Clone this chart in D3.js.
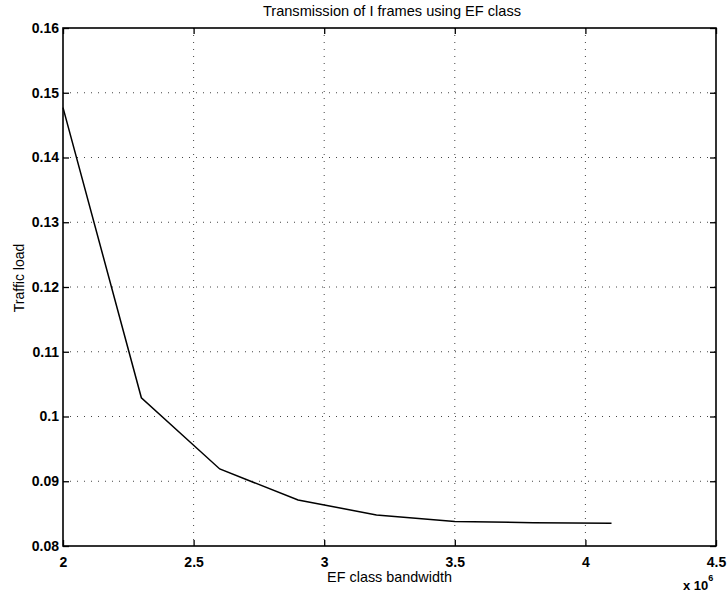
<!DOCTYPE html>
<html>
<head>
<meta charset="utf-8">
<script src="https://cdn.jsdelivr.net/npm/d3@7"></script>
<style>
  body { margin: 0; background: #fff; }
  text { font-family: "Liberation Sans", Arial, sans-serif; fill: #000; }
</style>
</head>
<body>
<div id="display"></div>
<script>
let w = 727;
let h = 593;

// bandwidth in units of 10^6
const bandwidth = [2.0, 2.3, 2.6, 2.9, 3.2, 3.5, 3.8, 4.1];
const trafficLoad = [0.1477, 0.1029, 0.0919, 0.0871, 0.0848, 0.0838, 0.0836, 0.0835];
const xTicks = [2, 2.5, 3, 3.5, 4, 4.5];
const yTicks = [0.08, 0.09, 0.1, 0.11, 0.12, 0.13, 0.14, 0.15, 0.16];

let pl = 63, pr = 716, pt = 28, pb = 546;

let viz = d3.select('#display')
            .append('svg')
                .attr('width', w)
                .attr('height', h)
                .style('background-color', 'white');

let xScale = d3.scaleLinear().domain([2, 4.5]).range([pl, pr]);
let yScale = d3.scaleLinear().domain([0.08, 0.16]).range([pb, pt]);

// grid
viz.append('g').selectAll('line').data(xTicks.slice(1, -1)).join('line')
    .attr('x1', d => xScale(d)).attr('x2', d => xScale(d))
    .attr('y1', pt).attr('y2', pb)
    .attr('stroke', '#444').attr('stroke-width', 1).attr('stroke-dasharray', '1,6');
viz.append('g').selectAll('line').data(yTicks.slice(1, -1)).join('line')
    .attr('x1', pl).attr('x2', pr)
    .attr('y1', d => yScale(d)).attr('y2', d => yScale(d))
    .attr('stroke', '#444').attr('stroke-width', 1).attr('stroke-dasharray', '1,6');

// axes (ticks inward, on all four sides)
let xAxis = d3.axisBottom(xScale).tickValues(xTicks).tickSize(-6).tickPadding(11)
    .tickFormat(d => d3.format('~g')(d));
let yAxis = d3.axisLeft(yScale).tickValues(yTicks).tickSize(-6).tickPadding(4)
    .tickFormat(d => d3.format('~g')(d));

function styleAxis(g) {
    g.select('.domain').remove();
    g.selectAll('line').attr('stroke', '#000').attr('stroke-width', 1.3);
    g.selectAll('text').style('font-size', '14px').style('font-weight', 'bold')
        .style('font-family', '"Liberation Sans", Arial, sans-serif').attr('fill', '#000');
}

viz.append('g').attr('transform', 'translate(0,' + pb + ')').call(xAxis).call(styleAxis);
viz.append('g').attr('transform', 'translate(' + pl + ',0)').call(yAxis).call(styleAxis);
viz.append('g').attr('transform', 'translate(0,' + pt + ')')
    .call(d3.axisTop(xScale).tickValues(xTicks).tickSize(-6).tickFormat(''))
    .call(styleAxis);
viz.append('g').attr('transform', 'translate(' + pr + ',0)')
    .call(d3.axisRight(yScale).tickValues(yTicks).tickSize(-6).tickFormat(''))
    .call(styleAxis);

// frame
viz.append('rect')
    .attr('x', pl).attr('y', pt)
    .attr('width', pr - pl).attr('height', pb - pt)
    .attr('fill', 'none').attr('stroke', '#000').attr('stroke-width', 1.6);

// curve
let line = d3.line().x((d, i) => xScale(bandwidth[i])).y(d => yScale(d));
viz.append('path')
    .datum(trafficLoad)
    .attr('d', line)
    .attr('fill', 'none')
    .attr('stroke', '#000')
    .attr('stroke-width', 1.5);

// title and labels
viz.append('text')
    .attr('x', 392).attr('y', 16)
    .attr('text-anchor', 'middle')
    .attr('fill', '#000')
    .style('font-size', '14.6px')
    .text('Transmission of I frames using EF class');

viz.append('text')
    .attr('x', (pl + pr) / 2).attr('y', 582)
    .attr('text-anchor', 'middle')
    .attr('fill', '#000')
    .style('font-size', '14.4px')
    .text('EF class bandwidth');

viz.append('text')
    .attr('transform', 'translate(24,' + ((pt + pb) / 2 - 9) + ') rotate(-90)')
    .attr('text-anchor', 'middle')
    .attr('fill', '#000')
    .style('font-size', '14px')
    .text('Traffic load');

let mult = viz.append('text')
    .attr('x', 683).attr('y', 590)
    .attr('fill', '#000')
    .style('font-size', '13px')
    .style('font-weight', 'bold');
mult.append('tspan').text('x 10');
mult.append('tspan').attr('dy', -9).style('font-size', '9px').text('6');
</script>
</body>
</html>
